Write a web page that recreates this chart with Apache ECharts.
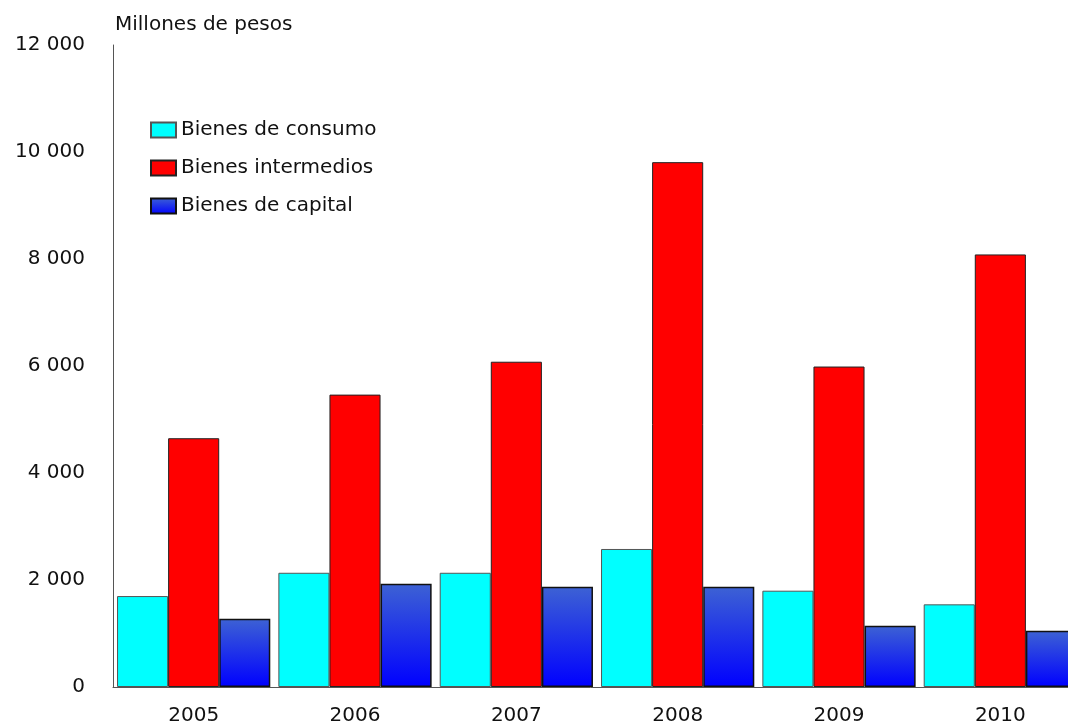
<!DOCTYPE html>
<html>
<head>
<meta charset="utf-8">
<title>Importaciones</title>
<script src="https://cdn.jsdelivr.net/npm/echarts@6/dist/echarts.min.js"></script>
<style>
  html, body { margin: 0; padding: 0; background: #fff; }
  #myChart { width: 1068px; height: 726px; }
</style>
</head>
<body>
<div id="myChart"></div>
<script>
// categorias y valores (millones de pesos)
const years = ['2005', '2006', '2007', '2008', '2009', '2010']
const consumo = [1700, 2135, 2135, 2580, 1800, 1545]
const intermedios = [4650, 5465, 6080, 9810, 5990, 8085]
const capital = [1275, 1930, 1875, 1875, 1145, 1050]
const yTicks = [0, 2000, 4000, 6000, 8000, 10000, 12000]

const font = 'DejaVu Sans, Verdana, sans-serif'

let myChart = echarts.init(document.getElementById('myChart'))
myChart.setOption({
  animation: false,
  textStyle: { fontFamily: font },
  graphic: [{
    type: 'text',
    left: 115,
    top: 15,
    style: { text: 'Millones de pesos', fontSize: 20, fontFamily: font, fill: '#111' }
  }],
  legend: {
    orient: 'vertical',
    left: 150,
    top: 120,
    padding: 0,
    itemWidth: 25,
    itemHeight: 15,
    itemGap: 18,
    icon: 'rect',
    textStyle: { fontSize: 20, lineHeight: 20, color: '#111' },
    data: ['Bienes de consumo', 'Bienes intermedios', 'Bienes de capital']
  },
  grid: {
    left: 113,
    top: 45,
    width: 968,
    height: 642,
    outerBoundsMode: 'none'
  },
  xAxis: {
    type: 'category',
    data: years,
    axisLine: { lineStyle: { color: '#555', width: 1 } },
    axisTick: { show: false },
    axisLabel: { fontSize: 20, color: '#111', margin: 19 }
  },
  yAxis: {
    type: 'value',
    min: yTicks[0],
    max: yTicks[yTicks.length - 1],
    interval: 2000,
    splitLine: { show: false },
    axisTick: { show: false },
    axisLine: { show: true, lineStyle: { color: '#555', width: 1 } },
    axisLabel: {
      fontSize: 20,
      color: '#111',
      margin: 28,
      formatter: v => v >= 1000 ? Math.floor(v / 1000) + ' ' + String(v % 1000).padStart(3, '0') : String(v)
    }
  },
  series: [
    {
      name: 'Bienes de consumo',
      type: 'bar',
      barGap: '0%',
      barCategoryGap: '5%',
      itemStyle: { color: '#00ffff', borderColor: '#555', borderWidth: 1 },
      data: consumo
    },
    {
      name: 'Bienes intermedios',
      type: 'bar',
      barGap: '0%',
      barCategoryGap: '5%',
      itemStyle: { color: '#ff0000', borderColor: '#222', borderWidth: 1 },
      data: intermedios
    },
    {
      name: 'Bienes de capital',
      type: 'bar',
      barGap: '0%',
      barCategoryGap: '5%',
      itemStyle: {
        color: new echarts.graphic.LinearGradient(0, 0, 0, 1, [
          { offset: 0, color: '#3d62d4' },
          { offset: 1, color: '#0000ff' }
        ]),
        borderColor: '#111',
        borderWidth: 1.5
      },
      data: capital
    }
  ]
})
</script>
</body>
</html>
